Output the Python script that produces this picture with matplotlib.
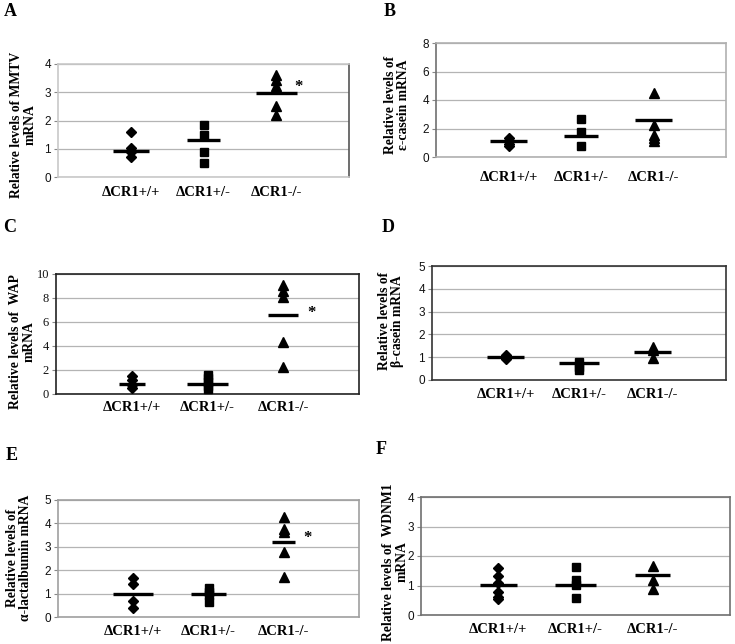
import matplotlib
matplotlib.use("Agg")
import matplotlib.pyplot as plt

# ---------------- data ----------------
categories = ["\u0394CR1+/+", "\u0394CR1+/-", "\u0394CR1-/-"]

mmtv_wt = [1.58, 1.04, 0.9, 0.71]
mmtv_het = [1.84, 1.49, 0.89, 0.5]
mmtv_ko = [3.6, 3.43, 3.22, 2.51, 2.19]
mmtv_means = [0.92, 1.31, 2.97]

ecas_wt = [1.3, 1.1, 0.9, 0.75]
ecas_het = [2.67, 1.76, 0.8]
ecas_ko = [4.5, 2.25, 1.55, 1.35, 1.15]
ecas_means = [1.12, 1.5, 2.6]

wap_wt = [1.47, 1.14, 0.78, 0.5]
wap_het = [1.6, 1.3, 1.0, 0.7, 0.4]
wap_ko = [9.1, 8.6, 8.05, 4.3, 2.25]
wap_means = [0.86, 0.86, 6.55]

bcas_wt = [1.1, 1.0, 0.93]
bcas_het = [0.77, 0.58, 0.44]
bcas_ko = [1.46, 1.3, 0.95]
bcas_means = [0.99, 0.76, 1.21]

alac_wt = [1.66, 1.42, 0.67, 0.38]
alac_het = [1.25, 1.05, 0.95, 0.65]
alac_ko = [4.26, 3.75, 3.65, 2.76, 1.73]
alac_means = [0.98, 0.98, 3.2]

wdnm_wt = [1.58, 1.32, 1.07, 0.79, 0.62, 0.54]
wdnm_het = [1.63, 1.18, 1.01, 0.56]
wdnm_ko = [1.66, 1.18, 0.88]
wdnm_means = [1.01, 1.01, 1.37]

# ---------------- figure ----------------
W, H = 735, 644
fig = plt.figure(figsize=(W / 100, H / 100), dpi=100)
SERIF = ["Liberation Serif", "DejaVu Serif"]
SANS = ["Liberation Sans", "DejaVu Sans"]


def px_axes(x0, y0, x1, y1):
    return fig.add_axes([x0 / W, 1 - y1 / H, (x1 - x0) / W, (y1 - y0) / H])


panels = [
    dict(letter="A", box=(58, 64, 349, 177), ymax=4, step=1,
         groups=(mmtv_wt, mmtv_het, mmtv_ko), means=mmtv_means,
         widths=(0.49, 0.46, 0.57),
         ylabel="Relative levels of MMTV\nmRNA", ylab_xy=(23, 125),
         letter_xy=(10, 12), pad=6.5, star=(3.3, 3.18),
         spines=dict(left="#c8c8c8", right="#555555", top="#c8c8c8", bottom="#c8c8c8"),
         tickfont=SANS),
    dict(letter="B", box=(436, 43, 726, 157), ymax=8, step=2,
         groups=(ecas_wt, ecas_het, ecas_ko), means=ecas_means,
         widths=(0.5, 0.47, 0.5),
         ylabel="Relative levels of\n\u03b5-casein mRNA", ylab_xy=(397, 105),
         letter_xy=(390, 12), pad=10, star=None,
         spines=dict(left="#707070", right="#b0b0b0", top="#b0b0b0", bottom="#b0b0b0"),
         tickfont=SANS),
    dict(letter="C", box=(56, 274, 359, 394), ymax=10, step=2,
         groups=(wap_wt, wap_het, wap_ko), means=wap_means,
         widths=(0.34, 0.53, 0.39),
         ylabel="Relative levels of  WAP\nmRNA", ylab_xy=(22, 342),
         letter_xy=(10, 228), pad=5, star=(3.37, 6.75),
         spines=dict(left="#222222", right="#222222", top="#222222", bottom="#222222"),
         tickfont=SERIF),
    dict(letter="D", box=(432, 266, 726, 380), ymax=5, step=1,
         groups=(bcas_wt, bcas_het, bcas_ko), means=bcas_means,
         widths=(0.49, 0.54, 0.5),
         ylabel="Relative levels of\n\u03b2-casein mRNA", ylab_xy=(391, 321),
         letter_xy=(388, 228), pad=5.5, star=None,
         spines=dict(left="#333333", right="#333333", top="#333333", bottom="#333333"),
         tickfont=SANS),
    dict(letter="E", box=(58, 500, 359, 617), ymax=5, step=1,
         groups=(alac_wt, alac_het, alac_ko), means=alac_means,
         widths=(0.53, 0.47, 0.3),
         ylabel="Relative levels of\n\u03b1-lactalbumin mRNA", ylab_xy=(19, 558),
         letter_xy=(12, 456), pad=5.5, star=(3.31, 3.37),
         spines=dict(left="#a0a0a0", right="#a0a0a0", top="#a0a0a0", bottom="#a0a0a0"),
         tickfont=SANS),
    dict(letter="F", box=(421, 497, 730, 615), ymax=4, step=1,
         groups=(wdnm_wt, wdnm_het, wdnm_ko), means=wdnm_means,
         widths=(0.48, 0.52, 0.45),
         ylabel="Relative levels of  WDNM1\nmRNA", ylab_xy=(395, 562),
         letter_xy=(381, 450), pad=5.5, star=None,
         spines=dict(left="#707070", right="#707070", top="#707070", bottom="#707070"),
         tickfont=SANS),
]

markers = ["D", "s", "^"]
msizes = [5.5, 5.5, 6.5]

for p in panels:
    ax = px_axes(*p["box"])
    ax.set_xlim(0, 4)
    ax.set_ylim(0, p["ymax"])
    yt = list(range(0, p["ymax"] + 1, p["step"]))
    ax.set_yticks(yt)
    ax.set_yticklabels([str(v) for v in yt], fontfamily=p["tickfont"],
                       fontsize=8.5 if p["tickfont"] is SANS else 9, color="#111111")
    ax.tick_params(axis="y", direction="out", length=3, width=0.8,
                   color="#888888", pad=2)
    ax.set_xticks([1, 2, 3])
    ax.set_xticklabels(categories, fontfamily=SERIF, fontweight="bold", fontsize=10.5)
    ax.tick_params(axis="x", length=0, pad=p["pad"])
    ax.grid(axis="y", color="#b4b4b4", linewidth=0.9)
    ax.set_axisbelow(True)
    for side, c in p["spines"].items():
        ax.spines[side].set_color(c)
        ax.spines[side].set_linewidth(1.2)

    for i, (vals, mk, ms) in enumerate(zip(p["groups"], markers, msizes)):
        xpos = i + 1
        ax.plot([xpos] * len(vals), vals, linestyle="none", marker=mk,
                markersize=ms, color="black", zorder=3, clip_on=False)
        hw = p["widths"][i] / 2
        ax.hlines(p["means"][i], xpos - hw, xpos + hw, colors="black",
                  linewidth=2.4, zorder=4)

    if p["star"] is not None:
        ax.text(p["star"][0], p["star"][1], "*", fontfamily=SERIF, fontsize=12,
                fontweight="bold", ha="center", va="center")

    lx, ly = p["ylab_xy"]
    fig.text(lx / W, 1 - ly / H, p["ylabel"], rotation=90, ha="center",
             va="center", fontfamily=SERIF, fontweight="bold", fontsize=9.8,
             multialignment="center", linespacing=1.05)
    tx, ty = p["letter_xy"]
    fig.text(tx / W, 1 - ty / H, p["letter"], ha="center", va="center",
             fontfamily=SERIF, fontweight="bold", fontsize=13)

fig.savefig("out.png", dpi=100, facecolor="white")
